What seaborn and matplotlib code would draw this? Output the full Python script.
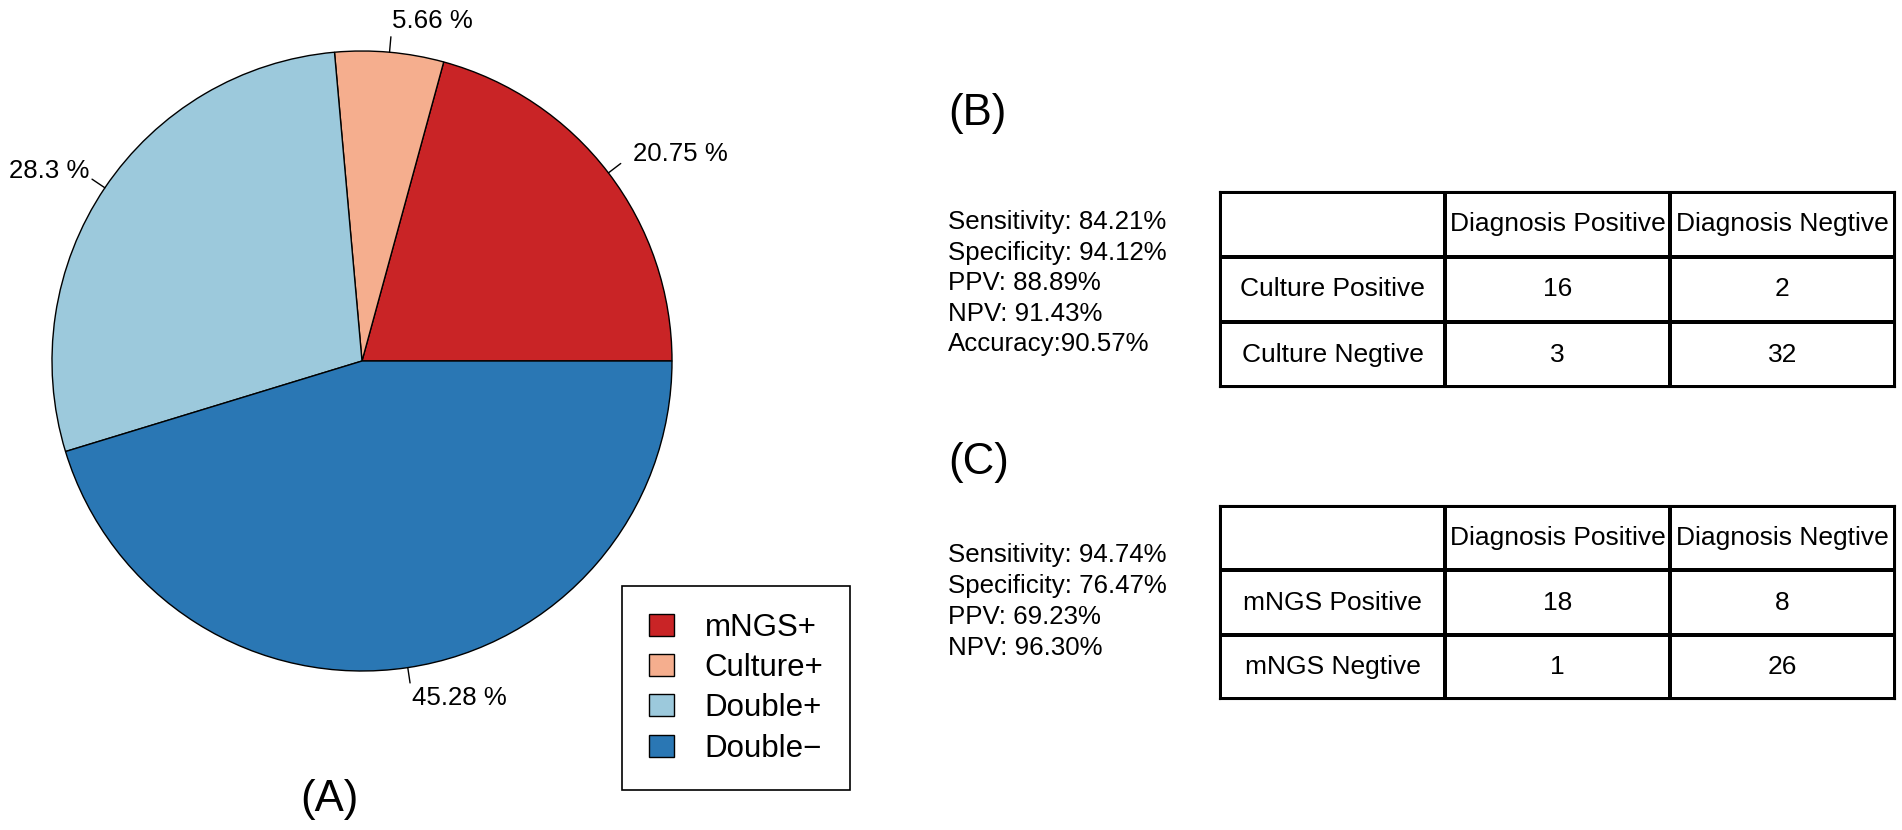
import numpy as np
import matplotlib
matplotlib.use("Agg")
import matplotlib.pyplot as plt
from matplotlib.colors import ListedColormap
from matplotlib.patches import Patch
import seaborn as sns

# pie data (counts out of 53)
groups = ["mNGS+", "Culture+", "Double+", "Double\u2212"]
counts = [11, 3, 15, 24]
colors = ["#C92426", "#F5AE8E", "#9CC9DC", "#2A77B4"]

# contingency tables
col_labels = ["Diagnosis Positive", "Diagnosis Negtive"]
culture_rows = ["Culture Positive", "Culture Negtive"]
culture_counts = [[16, 2], [3, 32]]
mngs_rows = ["mNGS Positive", "mNGS Negtive"]
mngs_counts = [[18, 8], [1, 26]]

culture_stats = ["Sensitivity: 84.21%", "Specificity: 94.12%", "PPV: 88.89%",
                 "NPV: 91.43%", "Accuracy:90.57%"]
mngs_stats = ["Sensitivity: 94.74%", "Specificity: 76.47%", "PPV: 69.23%",
              "NPV: 96.30%"]

sns.set_theme(style="white")
plt.rcParams["font.family"] = ["Liberation Sans", "DejaVu Sans"]
plt.rcParams["text.color"] = "black"

W, H = 1902, 830
fig = plt.figure(figsize=(W / 100, H / 100), dpi=100)


def fx(x):
    return x / W


def fy(y):
    return 1 - y / H


# (A) pie chart
cx, cy, r = 362, 361, 310
ax = fig.add_axes([fx(cx - r), fy(cy + r), 2 * r / W, 2 * r / H])
ax.pie(counts, colors=colors, startangle=0, counterclock=True, radius=1,
       wedgeprops=dict(edgecolor="black", linewidth=1))
total = sum(counts)
cum = np.cumsum(counts)
for c, end in zip(counts, cum):
    ang = 2 * np.pi * (end - c / 2) / total
    ca, sa = np.cos(ang), np.sin(ang)
    ax.plot([ca, 1.05 * ca], [sa, 1.05 * sa], color="black", lw=1, clip_on=False)
    # labels on the left hug the tick a bit more in the original
    tx = 1.1 * ca if ca >= 0 else 1.1 * ca + 0.032
    ax.text(tx, 1.1 * sa, f"{round(100 * c / total, 2)} %", fontsize=18.6,
            ha="left" if ca >= 0 else "right", va="center", clip_on=False)
ax.set_aspect("auto")
ax.set_xlim(-1, 1)
ax.set_ylim(-1, 1)
ax.axis("off")

handles = [Patch(facecolor=c, edgecolor="black", linewidth=1, label=g)
           for g, c in zip(groups, colors)]
leg = fig.legend(handles=handles, loc="upper left", bbox_to_anchor=(fx(622), fy(586)),
                 borderaxespad=0, fontsize=22.5, frameon=True, fancybox=False,
                 edgecolor="black", framealpha=1, borderpad=0.85, handlelength=0.8,
                 handleheight=0.7, handletextpad=1.0, labelspacing=0.33)
leg.get_frame().set_linewidth(1.2)

fig.text(fx(329), fy(799), "(A)", fontsize=31.5, ha="center", va="center")


# (B) and (C) tables
def draw_table(top, bottom, rows, vals):
    tax = fig.add_axes([fx(1220), fy(bottom), fx(1895) - fx(1220), (bottom - top) / H])
    annot = [[""] + col_labels] + [[rn] + [str(v) for v in rv] for rn, rv in zip(rows, vals)]
    sns.heatmap(np.zeros((3, 3)), annot=np.array(annot), fmt="",
                cmap=ListedColormap(["white"]), cbar=False, linewidths=1.5,
                linecolor="black", xticklabels=False, yticklabels=False,
                annot_kws=dict(color="black", fontsize=19), ax=tax)
    for s in tax.spines.values():
        s.set_visible(True)
        s.set_color("black")
        s.set_linewidth(1.5)


draw_table(192, 387, culture_rows, culture_counts)
draw_table(506, 699, mngs_rows, mngs_counts)

fig.text(fx(948), fy(114), "(B)", fontsize=31.5, ha="left", va="center")
for i, line in enumerate(culture_stats):
    fig.text(fx(948), fy(222 + 30.6 * i), line, fontsize=18.6, ha="left", va="center")

fig.text(fx(948), fy(462), "(C)", fontsize=31.5, ha="left", va="center")
for i, line in enumerate(mngs_stats):
    fig.text(fx(948), fy(555 + 31 * i), line, fontsize=18.6, ha="left", va="center")

fig.savefig("out.png", dpi=100)
